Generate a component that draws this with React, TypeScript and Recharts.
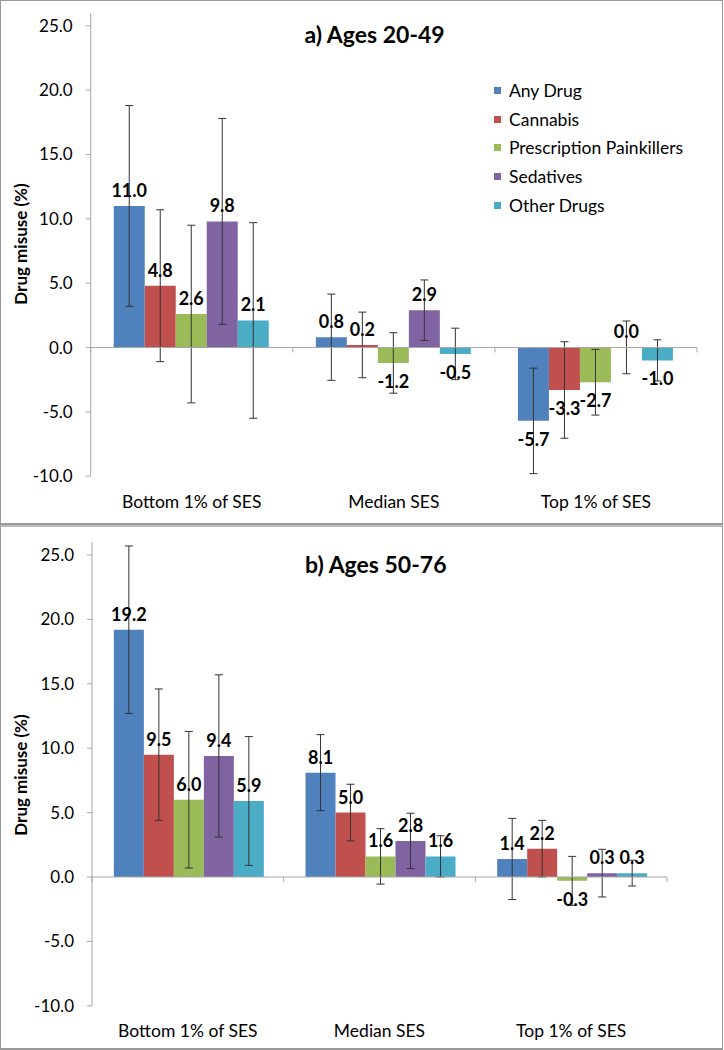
import React from "react";
import {
  BarChart,
  Bar,
  XAxis,
  YAxis,
  ErrorBar,
  LabelList,
  Legend,
  ReferenceLine,
} from "recharts";

const categories = ["Bottom 1% of SES", "Median SES", "Top 1% of SES"];
const seriesNames = ["Any Drug", "Cannabis", "Prescription Painkillers", "Sedatives", "Other Drugs"];
const seriesKeys = ["any", "cannabis", "painkillers", "sedatives", "other"];
const yTicks = [-10, -5, 0, 5, 10, 15, 20, 25];

// a) Ages 20-49 : bar values, then half-width of the error bars
const anyDrugA = [11.0, 0.8, -5.7];
const cannabisA = [4.8, 0.2, -3.3];
const painkillersA = [2.6, -1.2, -2.7];
const sedativesA = [9.8, 2.9, 0.01]; // printed as 0.0
const otherDrugsA = [2.1, -0.5, -1.0];

const anyDrugErrA = [7.8, 3.35, 4.1];
const cannabisErrA = [5.9, 2.55, 3.75];
const painkillersErrA = [6.9, 2.35, 2.55];
const sedativesErrA = [8.0, 2.35, 2.05];
const otherDrugsErrA = [7.6, 2.0, 1.6];

// b) Ages 50-76
const anyDrugB = [19.2, 8.1, 1.4];
const cannabisB = [9.5, 5.0, 2.2];
const painkillersB = [6.0, 1.6, -0.3];
const sedativesB = [9.4, 2.8, 0.3];
const otherDrugsB = [5.9, 1.6, 0.3];

const anyDrugErrB = [6.5, 2.95, 3.15];
const cannabisErrB = [5.1, 2.2, 2.2];
const painkillersErrB = [5.3, 2.15, 1.9];
const sedativesErrB = [6.3, 2.15, 1.85];
const otherDrugsErrB = [5.0, 1.6, 1.0];

const colors = ["#4F81BD", "#C0504D", "#9BBB59", "#8064A2", "#4BACC6"];
const FONT = 'Lato, "Open Sans", sans-serif';
const GRAY = "#a6a6a6";

function buildRows(values: number[][], errors: number[][]) {
  return categories.map((name, i) => {
    const row: Record<string, any> = { name };
    seriesKeys.forEach((k, s) => {
      row[k] = values[s][i];
      row[k + "Err"] = errors[s][i];
    });
    return row;
  });
}

const rowsA = buildRows(
  [anyDrugA, cannabisA, painkillersA, sedativesA, otherDrugsA],
  [anyDrugErrA, cannabisErrA, painkillersErrA, sedativesErrA, otherDrugsErrA]
);
const rowsB = buildRows(
  [anyDrugB, cannabisB, painkillersB, sedativesB, otherDrugsB],
  [anyDrugErrB, cannabisErrB, painkillersErrB, sedativesErrB, otherDrugsErrB]
);

// zero line with the little category ticks hanging below it
const ZeroAxis = (props: any) => {
  const { x1, x2, y1 } = props;
  const n = categories.length;
  const step = (x2 - x1) / n;
  return (
    <g>
      <line x1={x1} x2={x2} y1={y1} y2={y1} stroke={GRAY} strokeWidth={1} />
      {Array.from({ length: n + 1 }, (_, i) => (
        <line key={i} x1={x1 + i * step} x2={x1 + i * step} y1={y1} y2={y1 + 5} stroke={GRAY} />
      ))}
    </g>
  );
};

const valueLabel = (props: any) => {
  const { x, y, width, height } = props;
  const v = Number(props.value);
  const top = Math.min(y, y + height);
  const bottom = Math.max(y, y + height);
  const ty = v >= 0 ? top - 9 : bottom + 25;
  return (
    <text x={x + width / 2} y={ty} textAnchor="middle" fontSize={18} fontWeight={700} fill="#000">
      {v.toFixed(1)}
    </text>
  );
};

const legendContent = (props: any) => {
  const items = [...(props.payload || [])].sort(
    (a: any, b: any) => seriesNames.indexOf(a.value) - seriesNames.indexOf(b.value)
  );
  return (
    <div style={{ fontSize: 17.5, color: "#000" }}>
      {items.map((e: any) => (
        <div key={e.value} style={{ display: "flex", alignItems: "center", height: 28.6 }}>
          <span style={{ display: "inline-block", width: 7, height: 7, background: e.color, marginRight: 8 }} />
          <span>{e.value}</span>
        </div>
      ))}
    </div>
  );
};

type PanelProps = {
  rows: any[];
  title: string;
  top: number;
  height: number;
  margin: { top: number; right: number; bottom: number; left: number };
  yAxisWidth: number;
  titleTop: number;
  titleLeft: number;
  yLabelCenter: number;
  legend?: boolean;
};

function Panel(p: PanelProps) {
  return (
    <>
      <div
        style={{
          position: "absolute",
          left: p.titleLeft - 150,
          top: p.titleTop,
          width: 300,
          textAlign: "center",
          fontSize: 23,
          lineHeight: "23px",
          fontWeight: 700,
        }}
      >
        {p.title}
      </div>
      <div
        style={{
          position: "absolute",
          left: 21 - 100,
          top: p.yLabelCenter - 10,
          width: 200,
          height: 20,
          lineHeight: "20px",
          textAlign: "center",
          fontSize: 17,
          fontWeight: 700,
          transform: "rotate(-90deg)",
        }}
      >
        Drug misuse (%)
      </div>
      <div style={{ position: "absolute", left: 0, top: p.top }}>
        <BarChart
          width={724}
          height={p.height}
          data={p.rows}
          margin={p.margin}
          barCategoryGap="11.4%"
          barGap={0}
        >
          <XAxis
            dataKey="name"
            axisLine={false}
            tickLine={false}
            tickSize={0}
            tickMargin={19}
            tick={{ fontSize: 17.5, fill: "#000" }}
          />
          <YAxis
            width={p.yAxisWidth}
            domain={[-10, 26]}
            allowDataOverflow
            ticks={yTicks}
            interval={0}
            tickFormatter={(v: number) => v.toFixed(1)}
            stroke={GRAY}
            tickSize={5}
            tickMargin={13}
            tick={{ fontSize: 17, fill: "#000" }}
          />
          {p.legend && (
            <Legend
              layout="vertical"
              align="center"
              verticalAlign="middle"
              width={230}
              wrapperStyle={{ left: 494, top: 76.4 }}
              content={legendContent}
            />
          )}
          {seriesKeys.map((k, s) => (
            <Bar key={k} dataKey={k} name={seriesNames[s]} fill={colors[s]} isAnimationActive={false}>
              <ErrorBar dataKey={k + "Err"} width={4} strokeWidth={1} stroke="#333" direction="y" />
              <LabelList dataKey={k} content={valueLabel} />
            </Bar>
          ))}
          <ReferenceLine y={0} shape={ZeroAxis} />
        </BarChart>
      </div>
    </>
  );
}

export default function App() {
  return (
    <div style={{ position: "relative", width: 724, height: 1050, fontFamily: FONT, background: "#fff" }}>
      <style>{"body{margin:0}"}</style>
      <div
        style={{
          position: "absolute",
          left: 0,
          top: 0,
          width: 723,
          height: 525,
          boxSizing: "border-box",
          border: "1px solid #999",
          borderBottom: "2px solid #999",
        }}
      />
      <div
        style={{
          position: "absolute",
          left: 0,
          top: 525,
          width: 723,
          height: 525,
          boxSizing: "border-box",
          border: "1px solid #999",
          borderTop: "2px solid #bbb",
          borderBottom: "2px solid #999",
        }}
      />
      <Panel
        rows={rowsA}
        title="a) Ages 20-49"
        top={0}
        height={524}
        margin={{ top: 12.9, right: 27, bottom: 17.8, left: 0 }}
        yAxisWidth={90.7}
        titleTop={23}
        titleLeft={374.6}
        yLabelCenter={244}
        legend
      />
      <Panel
        rows={rowsB}
        title="b) Ages 50-76"
        top={525}
        height={525}
        margin={{ top: 17.1, right: 57, bottom: 14.2, left: 0 }}
        yAxisWidth={92}
        titleTop={552.5}
        titleLeft={375.8}
        yLabelCenter={775}
      />
    </div>
  );
}
